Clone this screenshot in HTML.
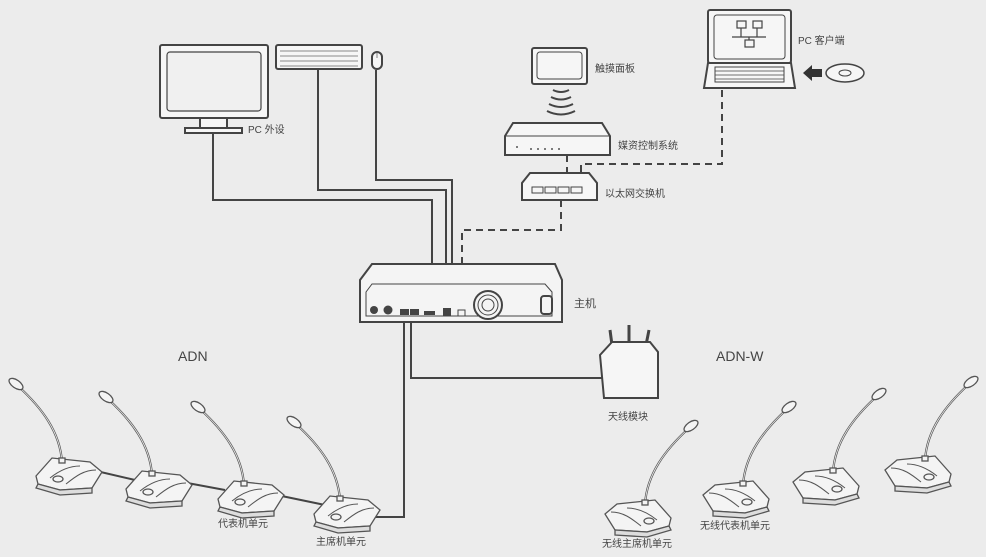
<!DOCTYPE html>
<html><head><meta charset="utf-8"><style>
html,body{margin:0;padding:0;background:#ececec}
svg{display:block}
text{font-family:"Liberation Sans","Noto Sans CJK SC",sans-serif;fill:#444}
</style></head><body>
<svg width="986" height="557" viewBox="0 0 986 557" xmlns="http://www.w3.org/2000/svg">
<defs>
<g id="micL" fill="#f4f4f4" stroke="#555" stroke-width="1.3">
  <path d="M8,6 C32,28 50,52 52,82" fill="none" stroke-width="2.2"/>
  <path d="M8,6 C32,28 50,52 52,82" fill="none" stroke="#eee" stroke-width="0.8"/>
  <ellipse cx="6" cy="4" rx="8" ry="4" transform="rotate(35 6 4)"/>
  <path d="M26,96 L42,78 L80,82 L92,92 L82,108 L50,110 L28,104 Z"/>
  <path d="M28,104 L50,110 L82,108 L82,113 L50,115 L26,108 Z" fill="#ddd"/>
  <path d="M40,98 C50,90 60,86 70,86 M56,104 C66,96 74,90 86,90" fill="none" stroke-width="1"/>
  <ellipse cx="48" cy="99" rx="5" ry="3"/>
  <rect x="49" y="78" width="6" height="5"/>
</g>
<g id="micR"><use href="#micL" transform="matrix(-1 0 0 1 0 0)"/></g>
</defs>

<g fill="none" stroke="#444" stroke-width="2">
  <path d="M213,132 V200 H432 V312"/>
  <path d="M318,68 V190 H446 V312"/>
  <path d="M376,70 V180 H452 V312"/>
  <path d="M404,312 V517 H368"/>
  <path d="M411,312 V378 H605"/>
  <path d="M92,470 L135,480 M182,482 L225,490 M272,494 L325,505"/>
</g>
<g fill="none" stroke="#444" stroke-width="2" stroke-dasharray="7,5">
  <path d="M567,155 V190"/>
  <path d="M722,90 V164 H581 V190"/>
  <path d="M561,200 V230 H462 V312"/>
</g>

<g stroke="#444" fill="#f6f6f6" stroke-width="2">
  <rect x="160" y="45" width="108" height="73" rx="2"/>
  <rect x="167" y="52" width="94" height="59" rx="3" fill="#f0f0f0" stroke-width="1.2"/>
  <rect x="200" y="118" width="27" height="10"/>
  <rect x="185" y="128" width="57" height="5"/>
  <rect x="276" y="45" width="86" height="24" rx="2"/>
  <rect x="372" y="52" width="10" height="17" rx="5"/>
</g>
<g stroke="#666" stroke-width="0.8">
  <path d="M280,51 H358 M280,56 H358 M280,61 H358 M280,66 H358"/>
  <path d="M377,52 V58"/>
</g>
<text x="248" y="133" font-size="10">PC 外设</text>

<g stroke="#444" fill="#f6f6f6" stroke-width="2">
  <rect x="532" y="48" width="55" height="36" rx="2"/>
  <rect x="537" y="52" width="45" height="27" rx="3" stroke-width="1"/>
  <path d="M553,90 Q561,94 569,90 M551,97 Q561,102 571,97 M549,104 Q561,110 573,104 M547,111 Q561,118 575,111" fill="none"/>
  <path d="M505,155 V136 L513,123 H602 L610,136 V155 Z"/>
  <path d="M505,136 H610" fill="none" stroke-width="1"/>
  <path d="M522,200 V183 L530,173 H589 L597,183 V200 Z"/>
  <rect x="532" y="187" width="11" height="6" stroke-width="1"/>
  <rect x="545" y="187" width="11" height="6" stroke-width="1"/>
  <rect x="558" y="187" width="11" height="6" stroke-width="1"/>
  <rect x="571" y="187" width="11" height="6" stroke-width="1"/>
</g>
<g fill="#555"><circle cx="517" cy="147" r="1"/><circle cx="531" cy="149" r="1"/><circle cx="538" cy="149" r="1"/><circle cx="545" cy="149" r="1"/><circle cx="552" cy="149" r="1"/><circle cx="559" cy="149" r="1"/></g>
<text x="595" y="72" font-size="10">触摸面板</text>
<text x="618" y="149" font-size="10">媒资控制系统</text>
<text x="605" y="197" font-size="10">以太网交换机</text>

<g stroke="#444" fill="#f6f6f6" stroke-width="2">
  <rect x="708" y="10" width="83" height="53" rx="2"/>
  <rect x="714" y="15" width="71" height="44" rx="3" stroke-width="1"/>
  <path d="M708,63 H791 L795,88 H704 Z"/>
  <rect x="715" y="67" width="69" height="15" stroke-width="1"/>
  <path d="M715,71 H784 M715,75 H784 M715,79 H784" stroke-width="0.7"/>
  <ellipse cx="845" cy="73" rx="19" ry="9" stroke-width="1.5"/>
  <ellipse cx="845" cy="73" rx="6" ry="3" stroke-width="1"/>
</g>
<path d="M803,73 L812,65 V69 H822 V77 H812 V81 Z" fill="#333"/>
<g fill="#f6f6f6" stroke="#444" stroke-width="1.2">
  <rect x="737" y="21" width="9" height="7"/><rect x="753" y="21" width="9" height="7"/>
  <rect x="745" y="40" width="9" height="7"/>
  <path d="M732,37 H766 M741,28 V37 M757,28 V37 M749,37 V40" fill="none"/>
</g>
<text x="798" y="44" font-size="10">PC 客户端</text>

<g stroke="#444" stroke-width="2" fill="#f4f4f4">
  <path d="M360,322 V280 L372,264 H555 L562,280 V322 Z"/>
  <path d="M372,284 H545 L552,292 V316 H366 V292 Z" fill="none" stroke-width="1"/>
  <circle cx="488" cy="305" r="14"/>
  <circle cx="488" cy="305" r="10" stroke-width="1"/>
  <circle cx="488" cy="305" r="6" stroke-width="1"/>
  <rect x="541" y="296" width="11" height="18" rx="3"/>
</g>
<g fill="#444">
  <circle cx="374" cy="310" r="4"/><circle cx="388" cy="310" r="4.5"/>
  <rect x="400" y="309" width="9" height="6"/><rect x="410" y="309" width="9" height="6"/>
  <rect x="424" y="311" width="11" height="4"/>
  <rect x="443" y="308" width="8" height="8"/>
  <rect x="458" y="310" width="7" height="6" fill="none" stroke="#444" stroke-width="1"/>
</g>
<text x="574" y="307" font-size="11">主机</text>

<g stroke="#444" stroke-width="2" fill="#f6f6f6">
  <path d="M612,345 L610,330 M629,345 L629,325 M646,345 L649,330" fill="none" stroke-width="3"/>
  <path d="M600,355 L612,342 H650 L658,352 V398 H604 Z"/>
</g>
<text x="608" y="420" font-size="10">天线模块</text>

<text x="178" y="361" font-size="14" fill="#333">ADN</text>
<text x="716" y="361" font-size="14" fill="#333">ADN-W</text>

<use href="#micL" transform="translate(10,380)"/>
<use href="#micL" transform="translate(100,393)"/>
<use href="#micL" transform="translate(192,403)"/>
<use href="#micL" transform="translate(288,418)"/>
<use href="#micR" transform="translate(697,422)"/>
<use href="#micR" transform="translate(795,403)"/>
<use href="#micR" transform="translate(885,390)"/>
<use href="#micR" transform="translate(977,378)"/>

<text x="218" y="527" font-size="10">代表机单元</text>
<text x="316" y="545" font-size="10">主席机单元</text>
<text x="602" y="547" font-size="10">无线主席机单元</text>
<text x="700" y="529" font-size="10">无线代表机单元</text>
</svg>
</body></html>
